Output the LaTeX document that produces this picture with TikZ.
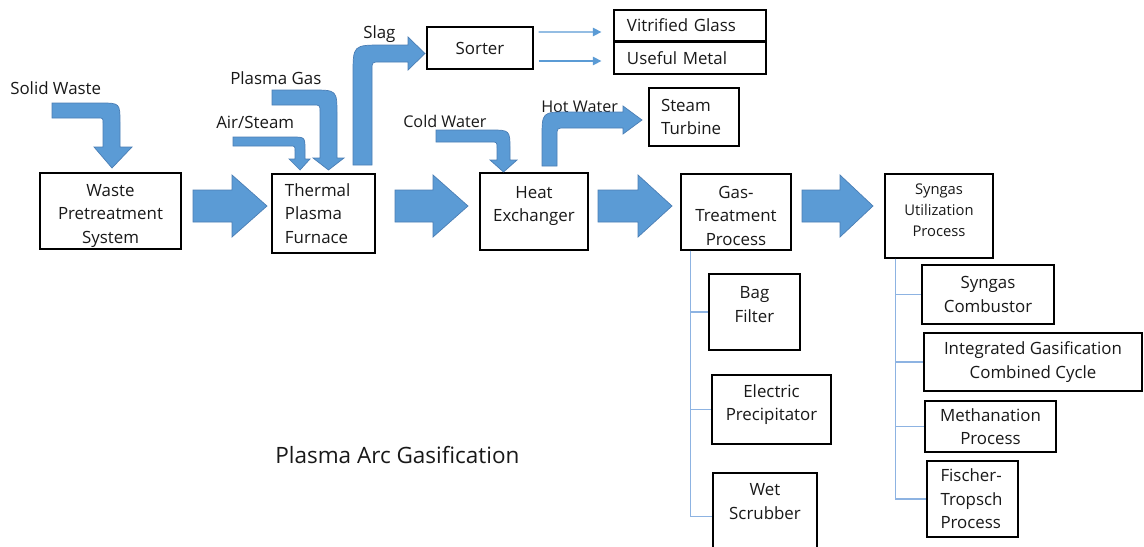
\documentclass[tikz,border=0pt]{standalone}
\usepackage{fontspec}
\setmainfont{Open Sans}
\usetikzlibrary{
    calc,
    arrows.meta
}

\definecolor{arrowblue}{HTML}{5B9BD5}
\definecolor{arrowedge}{HTML}{4A7EB5}
\definecolor{treeblue}{HTML}{8DB3E2}

\begin{document}
\begin{tikzpicture}[x=0.025cm,y=-0.025cm,
    box/.style={draw=black,line width=0.9pt,inner sep=0pt,align=center,
        font=\fontsize{12}{16.7}\selectfont,text=black!90},
    lbox/.style={box,align=left},
    fatarrow/.style={fill=arrowblue,draw=arrowedge,line width=0.5pt},
    thinflow/.style={draw=arrowblue,line width=1pt,-{Triangle[length=6pt,width=6pt]}},
    branch/.style={draw=treeblue,line width=0.8pt},
    tag/.style={anchor=west,inner sep=0pt,font=\fontsize{12}{14}\selectfont,text=black!90}
]

\clip (0,0) rectangle (1144,546);
\fill[white] (0,0) rectangle (1144,546);

% main line
\node (wps) [box,minimum width=3.525cm,minimum height=1.9cm] at (110.5,211) {\rule{0pt}{15pt}Waste\\Pretreatment\\System};
\node (tpf) [lbox,text width=1.925cm,inner xsep=0.325cm,minimum height=1.975cm] at (323.5,213.5) {Thermal\\Plasma\\Furnace};
\node (hex) [box,minimum width=2.7cm,minimum height=1.925cm] at (534,211.5) {Heat\\Exchanger\rule[-11pt]{0pt}{11pt}};
\node (gtp) [box,minimum width=2.75cm,minimum height=1.9cm] at (736,212) {\rule{0pt}{14pt}Gas-\\Treatment\\Process};
\node (sup) [box,minimum width=2.7cm,minimum height=2.1cm,font=\fontsize{10.5}{15}\selectfont] at (939,216) {Syngas\\Utilization\\Process\rule[-8.5pt]{0pt}{8.5pt}};

% top row
\node (sorter) [box,minimum width=2.65cm,minimum height=1.05cm] at (480,48) {Sorter};
\node (vg) [lbox,text width=3.15cm,inner xsep=0.325cm,minimum height=0.775cm] at (690,25.5) {Vitrified Glass};
\node (um) [lbox,text width=3.15cm,inner xsep=0.325cm,minimum height=0.8cm] at (690,58) {Useful Metal};
\node (st) [lbox,text width=1.65cm,inner xsep=0.3cm,minimum height=1.45cm] at (694,117) {Steam\\Turbine};

% gas treatment
\node (bag) [box,minimum width=2.275cm,minimum height=1.9cm] at (754.5,312) {Bag\\Filter\rule[-11pt]{0pt}{11pt}};
\node (ep) [box,minimum width=2.975cm,minimum height=1.725cm] at (771.5,409.5) {Electric\\Precipitator\rule[-9.5pt]{0pt}{9.5pt}};
\node (ws) [box,minimum width=2.6cm,minimum height=2.175cm] at (765,516.5) {Wet\\Scrubber\\\strut};

% syngas use
\node (sc) [box,minimum width=3.3cm,minimum height=1.475cm] at (988,294.5) {Syngas\\Combustor};
\node (igcc) [box,minimum width=5.45cm,minimum height=1.45cm] at (1033,362) {Integrated Gasification\\Combined Cycle};
\node (mp) [box,minimum width=3.275cm,minimum height=1.275cm] at (990.5,426.5) {Methanation\\Process};
\node (ft) [lbox,text width=1.6cm,inner xsep=0.3375cm,minimum height=1.9cm] at (972.5,499) {Fischer-\\Tropsch\\Process};

% labels
\node (lsw) [tag] at (10,88) {Solid Waste};
\node (lpg) [tag] at (230,78) {Plasma Gas};
\node (las) [tag] at (216,122) {Air/Steam};
\node (lsl) [tag] at (363,34) {Slag};
\node (lcw) [tag,font=\fontsize{11.5}{14}\selectfont] at (403,121) {Cold Water};
\node (lhw) [tag,font=\fontsize{11.5}{14}\selectfont] at (541,107) {Hot Water};
\node (title) [tag,font=\fontsize{16}{19}\selectfont] at (275,455) {Plasma Arc Gasification};

% straight block arrows
\filldraw[fatarrow] (193,190) -- (232,190) -- (232,175) -- (267,206) -- (232,237) -- (232,222) -- (193,222) -- cycle;
\filldraw[fatarrow] (395,190) -- (433,190) -- (433,175) -- (468,206) -- (433,237) -- (433,222) -- (395,222) -- cycle;
\filldraw[fatarrow] (598,190) -- (638,190) -- (638,175) -- (672,206) -- (638,237) -- (638,222) -- (598,222) -- cycle;
\filldraw[fatarrow] (802,190) -- (840,190) -- (840,175) -- (873,206) -- (840,237) -- (840,222) -- (802,222) -- cycle;

% bent arrows
\filldraw[fatarrow] (52,103) -- (100,103) .. controls (120,103) .. (120,123) -- (120,147) -- (132,147)
    -- (112,168) -- (94,147) -- (103,147) -- (103,123) .. controls (103,118) .. (98,118) -- (52,118) -- cycle;
\filldraw[fatarrow] (272,90) -- (312,90) .. controls (337,90) .. (337,115) -- (337,158) -- (344,158)
    -- (328.5,170) -- (313,158) -- (320,158) -- (320,112) .. controls (320,105) .. (313,105) -- (272,105) -- cycle;
\filldraw[fatarrow] (233,137) -- (292,137) .. controls (305,137) .. (305,150) -- (305,159) -- (310,159)
    -- (300,170) -- (289,159) -- (295,159) -- (295,151) .. controls (295,146) .. (290,146) -- (233,146) -- cycle;
\filldraw[fatarrow] (353,165) -- (353,75) .. controls (353,45) .. (383,45) -- (408,45) -- (408,37)
    -- (425,53.5) -- (408,70) -- (408,62) -- (380,62) .. controls (372,62) .. (372,70) -- (372,165) -- cycle;
\filldraw[fatarrow] (436,130) -- (490,130) .. controls (510,130) .. (510,150) -- (510,160) -- (517,160)
    -- (503.5,172) -- (490,160) -- (497,160) -- (497,148) .. controls (497,142) .. (491,142) -- (436,142) -- cycle;
\filldraw[fatarrow] (542,166) -- (542,138) .. controls (542,112) .. (568,112) -- (623,112) -- (623,106)
    -- (642,120) -- (623,134) -- (623,128) -- (565,128) .. controls (557,128) .. (557,136) -- (557,166) -- cycle;

% sorter outputs
\draw[thinflow] ([shift={(5,-16)}]sorter.east) -- ([shift={(-12,6.5)}]vg.west);
\draw[thinflow] ([shift={(5,13)}]sorter.east) -- ([shift={(-12,3)}]um.west);

% branches
\draw[branch] ([shift={(10,0)}]gtp.south west) |- (bag.west);
\draw[branch] ([shift={(10,0)}]gtp.south west) |- (ep.west);
\draw[branch] ([shift={(10,0)}]gtp.south west) |- (ws.west);
\draw[branch] ([shift={(11,0)}]sup.south west) |- (sc.west);
\draw[branch] ([shift={(11,0)}]sup.south west) |- (igcc.west);
\draw[branch] ([shift={(11,0)}]sup.south west) |- (mp.west);
\draw[branch] ([shift={(11,0)}]sup.south west) |- (ft.west);

\end{tikzpicture}
\end{document}
